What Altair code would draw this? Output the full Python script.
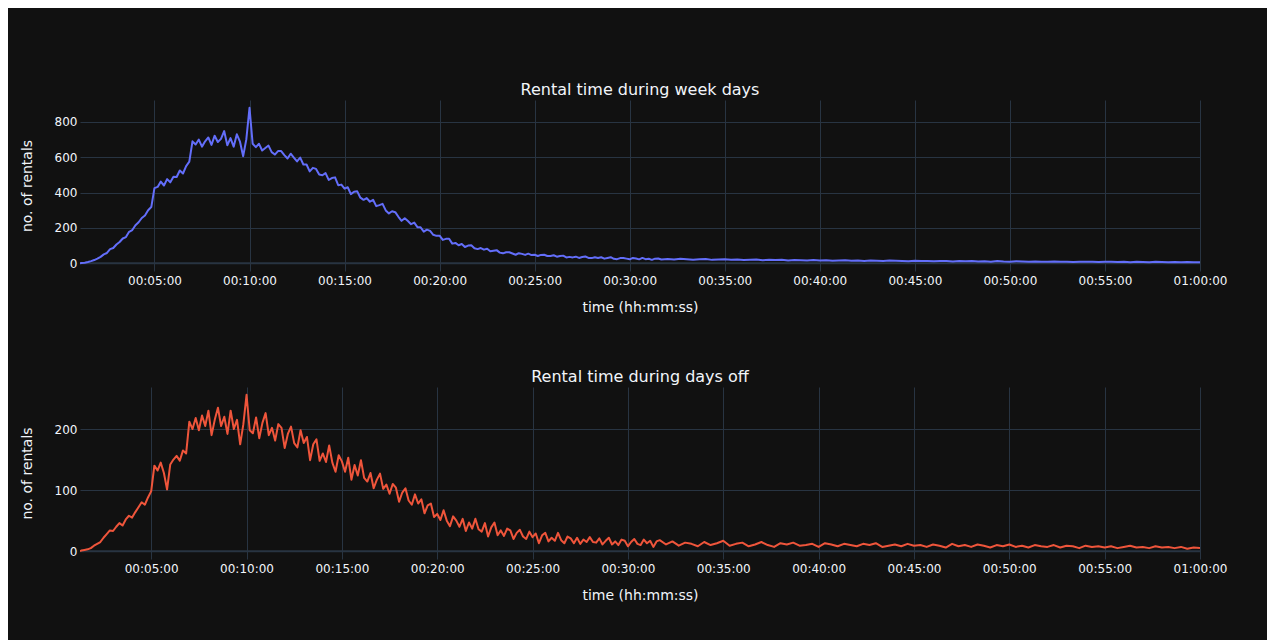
import altair as alt
import pandas as pd

# ---------------- data ----------------
# rental duration in seconds (x) and number of rentals (y)
weekday_times = [65] + list(range(70, 1901, 10)) + list(range(1920, 3601, 20))
weekday_counts = [
    0,
    1, 3, 7, 12, 18, 26,
    36, 50, 58, 80, 86, 106,
    120, 140, 148, 178, 188, 215,
    232, 256, 270, 300, 318, 425,
    432, 462, 440, 476, 458, 490,
    488, 525, 508, 550, 575, 690,
    672, 700, 660, 690, 712, 670,
    722, 686, 704, 748, 668, 708,
    660, 730, 688, 606, 702, 880,
    676, 657, 676, 638, 652, 666,
    629, 615, 635, 635, 612, 593,
    620, 598, 576, 598, 559, 559,
    520, 540, 534, 502, 498, 510,
    472, 482, 486, 442, 445, 422,
    430, 391, 405, 407, 371, 359,
    369, 348, 359, 323, 329, 336,
    299, 282, 294, 289, 263, 240,
    255, 239, 221, 230, 204, 203,
    179, 190, 183, 161, 155, 156,
    132, 138, 139, 111, 115, 102,
    109, 92, 100, 102, 85, 80,
    86, 77, 82, 68, 71, 74,
    60, 56, 62, 62, 55, 48,
    57, 53, 47, 54, 46, 48,
    41, 47, 48, 41, 41, 45,
    37, 41, 43, 33, 36, 33,
    37, 30, 35, 38, 30, 29,
    34, 30, 34, 26, 30, 34,
    25, 23, 29, 30, 26, 22,
    30, 27, 22, 30, 23, 25,
    19, 26, 27, 21,
    # tail, 20 s steps
    24, 21, 25, 23, 20, 22, 24, 19, 21, 22,
    19, 21, 18, 20, 21, 17, 19, 18, 20, 16,
    18, 17, 15, 18, 16, 17, 14, 16, 17, 14,
    15, 13, 16, 14, 12, 15, 14, 13, 11, 14,
    12, 13, 11, 13, 12, 10, 12, 11, 13, 10,
    11, 9, 12, 10, 9, 11, 10, 8, 10, 9,
    9, 10, 8, 9, 7, 9, 8, 9, 7, 8,
    8, 7, 8, 6, 8, 7, 6, 8, 7, 6,
    7, 5, 7, 6, 6,
]

dayoff_times = [76] + list(range(80, 1901, 10)) + list(range(1920, 3601, 20))
dayoff_counts = [
    0,
    1, 2, 3, 5, 9, 12,
    15, 22, 28, 34, 33, 40,
    46, 42, 52, 58, 55, 64,
    72, 80, 76, 88, 98, 140,
    132, 145, 128, 101, 142, 150,
    156, 148, 165, 160, 212, 200,
    218, 198, 222, 205, 230, 190,
    215, 235, 205, 220, 192, 230,
    200, 215, 175, 208, 256, 198,
    193, 219, 185, 210, 226, 190,
    202, 181, 208, 202, 169, 192,
    204, 177, 170, 198, 177, 187,
    149, 175, 183, 148, 160, 146,
    173, 145, 130, 157, 147, 130,
    153, 117, 141, 124, 149, 120,
    114, 128, 103, 117, 127, 102,
    109, 94, 110, 104, 81, 96,
    103, 83, 76, 93, 78, 85,
    62, 75, 78, 56, 61, 51,
    67, 50, 41, 57, 50, 40,
    53, 33, 47, 37, 53, 36,
    32, 46, 24, 39, 47, 26,
    34, 25, 37, 34, 20, 30,
    35, 24, 20, 32, 23, 29,
    13, 26, 30, 16, 22, 17,
    30, 18, 13, 24, 21, 13,
    22, 12, 19, 15, 23, 15,
    14, 21, 11, 17, 22, 11,
    16, 10, 19, 17, 8, 15,
    20, 12, 10, 19, 13, 17,
    7, 16, 18,
    # tail, 20 s steps
    11, 16, 9, 14, 12, 8, 15, 10, 13, 17,
    9, 12, 14, 8, 11, 15, 10, 7, 13, 11,
    14, 9, 10, 12, 7, 13, 11, 8, 12, 10,
    8, 12, 10, 13, 7, 9, 11, 8, 12, 9,
    10, 7, 11, 9, 6, 12, 8, 10, 7, 11,
    9, 6, 10, 8, 11, 7, 9, 6, 10, 8,
    7, 10, 6, 9, 8, 5, 9, 7, 8, 6,
    8, 5, 7, 9, 6, 7, 5, 8, 6, 7,
    5, 7, 4, 6, 5,
]

x_ticks = list(range(300, 3601, 300))
weekday_yticks = [0, 200, 400, 600, 800]
dayoff_yticks = [0, 100, 200]

FONT = "DejaVu Sans"
TEXT = "#f2f5fa"
GRID = "#283442"


def panel(times, counts, color, title, xdomain, ydomain, yticks, height):
    n = min(len(times), len(counts))
    df = pd.DataFrame({"t": times[:n], "n": counts[:n]})
    x_enc = alt.X(
        "t:Q",
        scale=alt.Scale(domain=xdomain, nice=False, zero=False),
        axis=alt.Axis(
            values=x_ticks,
            labelExpr="utcFormat(datum.value*1000, '%H:%M:%S')",
            title="time (hh:mm:ss)",
            labelPadding=4,
            titlePadding=14,
            labelFlush=False,
        ),
    )
    y_enc = alt.Y(
        "n:Q",
        scale=alt.Scale(domain=ydomain, nice=False, zero=False),
        axis=alt.Axis(values=yticks, title="no. of rentals", labelPadding=3, titlePadding=20),
    )
    zero = (
        alt.Chart(pd.DataFrame({"n": [0]}))
        .mark_rule(color=GRID, strokeWidth=2)
        .encode(y=y_enc)
    )
    line = (
        alt.Chart(df)
        .mark_line(color=color, strokeWidth=2, strokeJoin="round", clip=True)
        .encode(x=x_enc, y=y_enc)
    )
    return alt.layer(zero, line).properties(
        width=1120,
        height=height,
        title=alt.TitleParams(title, baseline="bottom", offset=-14),
    )


top = panel(weekday_times, weekday_counts, "#636efa", "Rental time during week days",
            [65, 3600], [-44, 924], weekday_yticks, 171)
bottom = panel(dayoff_times, dayoff_counts, "#EF553B", "Rental time during days off",
               [76, 3600], [-12.8, 268.8], dayoff_yticks, 172)

chart = (
    alt.vconcat(top, bottom, spacing=55)
    .properties(padding={"top": 74, "left": 12, "right": 40, "bottom": 44}, background="#111111")
    .configure_view(stroke=None)
    .configure_axis(
        gridColor=GRID,
        gridWidth=1,
        domain=False,
        ticks=False,
        labelColor=TEXT,
        titleColor=TEXT,
        labelFont=FONT,
        titleFont=FONT,
        labelFontSize=12,
        titleFontSize=14,
        titleFontWeight="normal",
    )
    .configure_title(color=TEXT, font=FONT, fontSize=16, fontWeight="normal", anchor="middle")
)

chart.save("out.html", embed_options={"renderer": "svg", "actions": False})
